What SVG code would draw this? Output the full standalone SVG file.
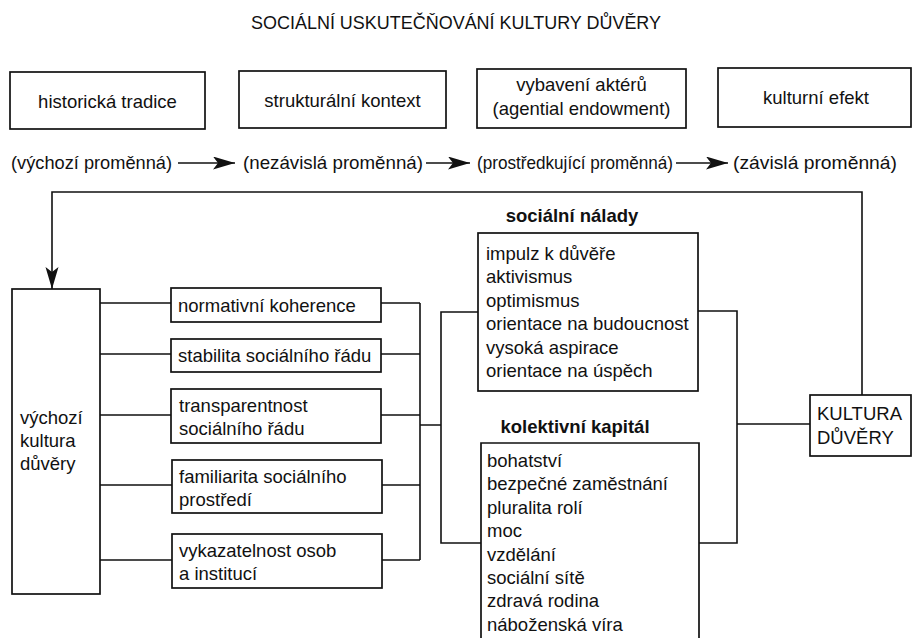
<svg xmlns="http://www.w3.org/2000/svg" width="913" height="638" viewBox="0 0 913 638">
<style>
text{font-family:"Liberation Sans",Arial,sans-serif;font-size:18.5px;fill:#111}
.b{font-weight:bold}
.box{fill:none;stroke:#111;stroke-width:1.7}
.ln{fill:none;stroke:#111;stroke-width:1.6}
</style>
<defs>
<marker id="dart" markerUnits="userSpaceOnUse" markerWidth="24" markerHeight="14" refX="22" refY="6.5" orient="auto">
<path d="M0,0 L22,6.5 L0,13 L5,6.5 Z" fill="#111"/>
</marker>
</defs>
<rect width="913" height="638" fill="#fff"/>

<g id="title"><text x="456" y="29" text-anchor="middle" style="font-size:18px" textLength="410" lengthAdjust="spacingAndGlyphs">SOCIÁLNÍ USKUTEČŇOVÁNÍ KULTURY DŮVĚRY</text></g>

<g id="historicka-tradice"><rect class="box" x="10" y="72" width="195" height="57"/><text x="107.5" y="108" text-anchor="middle">historická tradice</text></g>
<g id="strukturalni-kontext"><rect class="box" x="239" y="71" width="207" height="57"/><text x="342.5" y="107" text-anchor="middle">strukturální kontext</text></g>
<g id="vybaveni-akteru"><rect class="box" x="477" y="69" width="209" height="59"/><text x="581.5" y="91" text-anchor="middle">vybavení aktérů</text><text x="581.5" y="115" text-anchor="middle">(agential endowment)</text></g>
<g id="kulturni-efekt"><rect class="box" x="718" y="68" width="193" height="59"/><text x="816" y="104" text-anchor="middle">kulturní efekt</text></g>

<g id="promenne">
<text x="11" y="169" textLength="161" lengthAdjust="spacingAndGlyphs">(výchozí proměnná)</text>
<text x="243" y="169" textLength="180" lengthAdjust="spacingAndGlyphs">(nezávislá proměnná)</text>
<text x="477" y="169" textLength="196" lengthAdjust="spacingAndGlyphs">(prostředkující proměnná)</text>
<text x="733" y="169" textLength="164" lengthAdjust="spacingAndGlyphs">(závislá proměnná)</text>
</g>

<g id="vychozi-kultura"><rect class="box" x="12" y="289" width="88" height="305"/><text x="20" y="424">výchozí</text><text x="20" y="447">kultura</text><text x="20" y="470">důvěry</text></g>

<g id="normativni-koherence"><rect class="box" x="171" y="288" width="210" height="34"/><text x="178" y="312">normativní koherence</text></g>
<g id="stabilita"><rect class="box" x="171" y="339" width="210" height="33"/><text x="178" y="362">stabilita sociálního řádu</text></g>
<g id="transparentnost"><rect class="box" x="171" y="389" width="210" height="54"/><text x="179" y="412">transparentnost</text><text x="179" y="435">sociálního řádu</text></g>
<g id="familiarita"><rect class="box" x="172" y="460" width="210" height="53"/><text x="179" y="483">familiarita sociálního</text><text x="179" y="506">prostředí</text></g>
<g id="vykazatelnost"><rect class="box" x="172" y="534" width="210" height="54"/><text x="179" y="557">vykazatelnost osob</text><text x="179" y="580">a institucí</text></g>

<g id="socialni-nalady">
<text class="b" x="572" y="222" text-anchor="middle">sociální nálady</text>
<rect class="box" x="478" y="233" width="220" height="158"/>
<text x="486" y="260">impulz k důvěře</text>
<text x="486" y="283.4">aktivismus</text>
<text x="486" y="306.8">optimismus</text>
<text x="486" y="330.2">orientace na budoucnost</text>
<text x="486" y="353.6">vysoká aspirace</text>
<text x="486" y="377">orientace na úspěch</text>
</g>

<g id="kolektivni-kapital">
<text class="b" x="575" y="433" text-anchor="middle">kolektivní kapitál</text>
<path class="box" d="M481,645 V443 H699 V645"/>
<text x="487" y="467">bohatství</text>
<text x="487" y="490.4">bezpečné zaměstnání</text>
<text x="487" y="513.8">pluralita rolí</text>
<text x="487" y="537.2">moc</text>
<text x="487" y="560.6">vzdělání</text>
<text x="487" y="584">sociální sítě</text>
<text x="487" y="607.4">zdravá rodina</text>
<text x="487" y="630.8">náboženská víra</text>
</g>

<g id="kultura-duvery"><rect class="box" x="810" y="395" width="101" height="61"/><text x="817" y="420">KULTURA</text><text x="817" y="444">DŮVĚRY</text></g>

<g id="connectors">
<line class="ln" x1="178" y1="163" x2="235" y2="163" marker-end="url(#dart)"/>
<line class="ln" x1="426" y1="163" x2="470" y2="163" marker-end="url(#dart)"/>
<line class="ln" x1="676" y1="163" x2="728" y2="163" marker-end="url(#dart)"/>
<path class="ln" d="M862,395 V192 H52 V289" marker-end="url(#dart)"/>
<path class="ln" d="M100,303 H171 M100,354 H171 M100,415 H171 M100,485 H172 M100,560 H172"/>
<path class="ln" d="M381,303 H420 M381,354 H420 M381,415 H420 M382,485 H420 M382,560 H420 M420,303 V560 M420,425 H441"/>
<path class="ln" d="M478,312 H441 V543 H481"/>
<path class="ln" d="M698,311 H737 V543 H699 M737,424 H810"/>
</g>
</svg>
